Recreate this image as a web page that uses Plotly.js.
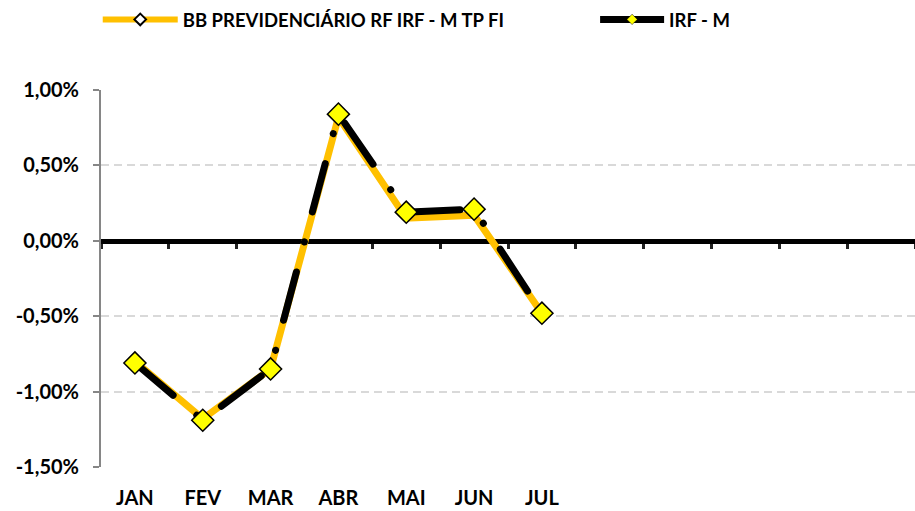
<!DOCTYPE html>
<html>
<head>
<meta charset="utf-8">
<script src="https://cdn.plot.ly/plotly-3.0.1.min.js"></script>
<style>
html,body{margin:0;padding:0;background:#fff;}
#chart{width:915px;height:511px;}
.scatterlayer .js-line{stroke-linecap:round;}
</style>
</head>
<body>
<div id="chart"></div>
<script>
const months = ['JAN','FEV','MAR','ABR','MAI','JUN','JUL'];
const bbFund = [-0.80, -1.18, -0.85, 0.82, 0.15, 0.17, -0.48];
const irfm   = [-0.81, -1.19, -0.85, 0.84, 0.19, 0.21, -0.48];
const seriesNames = ['BB PREVIDENCIÁRIO RF IRF - M TP FI', 'IRF - M'];
const yTickVals = [-1.5, -1.0, -0.5, 0, 0.5, 1.0];
const yTickText = ['-1,50%', '-1,00%', '-0,50%', '0,00%', '0,50%', '1,00%'];

const FONT = 'Lato, "Open Sans", sans-serif';
const ORANGE = '#FFC000';

const traces = [
  {
    x: [null], y: [null], xaxis: 'x2', type: 'scatter', mode: 'lines',
    showlegend: false, hoverinfo: 'skip'
  },
  {
    x: months, y: bbFund, type: 'scatter', mode: 'lines',
    line: {color: ORANGE, width: 7},
    showlegend: false, hoverinfo: 'skip'
  },
  {
    x: months, y: irfm, type: 'scatter', mode: 'lines+markers',
    line: {color: '#000000', width: 7, dash: '50px,31px,0.1px,31px'},
    marker: {symbol: 'diamond', size: 17, color: '#FFFF00', line: {color: '#000000', width: 1.5}},
    showlegend: false, hoverinfo: 'skip'
  },
  {
    x: [null], y: [null], type: 'scatter', mode: 'lines+markers', name: seriesNames[0],
    legend: 'legend',
    line: {color: ORANGE, width: 6},
    marker: {symbol: 'diamond', size: 9, color: '#FFFFFF', line: {color: '#000000', width: 2}}
  },
  {
    x: [null], y: [null], type: 'scatter', mode: 'lines+markers', name: seriesNames[1],
    legend: 'legend2',
    line: {color: '#000000', width: 7},
    marker: {symbol: 'diamond', size: 8, color: '#FFFF00', line: {color: '#000000', width: 0.5}}
  }
];

const legendFont = {family: FONT, size: 18.5, color: '#000000', weight: 700};

const layout = {
  width: 915, height: 511,
  margin: {l: 101, r: 0, t: 90, b: 44, pad: 0},
  paper_bgcolor: '#ffffff', plot_bgcolor: '#ffffff',
  font: {family: FONT, size: 20, color: '#000000', weight: 700},
  showlegend: true,
  legend: {
    orientation: 'h', x: -0.004, xanchor: 'left', y: 1.186, yanchor: 'middle',
    font: legendFont, itemwidth: 75,
    bgcolor: 'rgba(0,0,0,0)', itemclick: false
  },
  legend2: {
    orientation: 'h', x: 0.607, xanchor: 'left', y: 1.186, yanchor: 'middle',
    font: legendFont, itemwidth: 64,
    bgcolor: 'rgba(0,0,0,0)', itemclick: false
  },
  xaxis: {
    type: 'category', range: [-0.5, 11.5],
    showline: false, showgrid: false, zeroline: false,
    ticks: '', ticklabelstandoff: 17,
    tickfont: {family: FONT, size: 20, color: '#000000', weight: 700},
    fixedrange: true
  },
  xaxis2: {
    overlaying: 'x', anchor: 'free', position: 0.6, side: 'bottom',
    type: 'linear', range: [-0.5, 11.5], tick0: -0.5, dtick: 1,
    showline: true, linecolor: '#000000', linewidth: 5,
    ticks: 'outside', ticklen: 5, tickwidth: 3, tickcolor: '#222222',
    showticklabels: false, showgrid: false, zeroline: false,
    layer: 'below traces', fixedrange: true
  },
  yaxis: {
    range: [-1.5, 1.0], tickvals: yTickVals, ticktext: yTickText,
    showline: true, linecolor: '#868686', linewidth: 2,
    ticks: 'outside', ticklen: 6, tickwidth: 2, tickcolor: '#868686',
    ticklabelstandoff: 10,
    showgrid: true, gridcolor: '#d9d9d9', gridwidth: 2, griddash: '8px,5px',
    zeroline: false,
    tickfont: {family: FONT, size: 20, color: '#000000', weight: 700},
    fixedrange: true
  }
};

Plotly.newPlot('chart', traces, layout, {displayModeBar: false, staticPlot: true});
</script>
</body>
</html>
